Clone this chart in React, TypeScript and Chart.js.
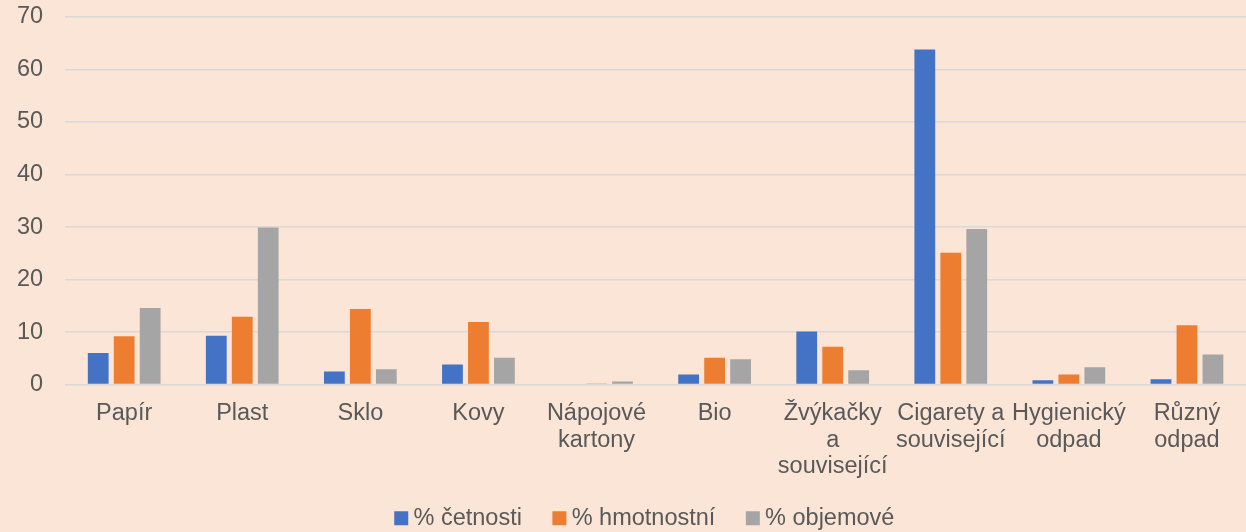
import React, { useEffect, useRef } from "react";
import { Chart, registerables } from "chart.js";

Chart.register(...registerables);

const categories: (string | string[])[] = [
  "Papír",
  "Plast",
  "Sklo",
  "Kovy",
  ["Nápojové", "kartony"],
  "Bio",
  ["Žvýkačky", "a", "související"],
  ["Cigarety a", "související"],
  ["Hygienický", "odpad"],
  ["Různý", "odpad"],
];
const cetnosti = [6.0, 9.3, 2.5, 3.8, 0, 1.9, 10.1, 63.8, 0.8, 1.0];
const hmotnostni = [9.2, 12.9, 14.4, 11.9, 0.2, 5.1, 7.2, 25.1, 1.9, 11.3];
const objemove = [14.6, 29.9, 2.9, 5.1, 0.6, 4.8, 2.7, 29.6, 3.3, 5.7];
const seriesNames = ["% četnosti", "% hmotnostní", "% objemové"];

const bg = "#FBE5D6";
const textColor = "#595959";

const bgPlugin = {
  id: "bgFill",
  beforeDraw(chart: any) {
    const { ctx, width, height } = chart;
    ctx.save();
    ctx.fillStyle = bg;
    ctx.fillRect(0, 0, width, height);
    ctx.restore();
  },
};

// nudge the legend block after layout (keeps wide item spacing, tighter vertical gap)
const legendNudge = {
  id: "legendNudge",
  afterLayout(chart: any) {
    const lg = chart.legend;
    if (!lg) return;
    lg.top -= 18;
    lg.bottom -= 18;
    lg.left -= 8;
    lg.right -= 8;
  },
};

export default function App() {
  const ref = useRef<HTMLCanvasElement | null>(null);
  useEffect(() => {
    document.body.style.margin = "0";
    const font = "'Liberation Sans', Arial, sans-serif";
    const fs = 23.5;
    const chart = new Chart(ref.current!, {
      type: "bar",
      data: {
        labels: categories,
        datasets: [
          { label: seriesNames[0], data: cetnosti, backgroundColor: "#4472C4" },
          { label: seriesNames[1], data: hmotnostni, backgroundColor: "#ED7D31" },
          { label: seriesNames[2], data: objemove, backgroundColor: "#A5A5A5" },
        ],
      },
      options: {
        animation: false,
        responsive: false,
        maintainAspectRatio: false,
        layout: { padding: { top: 0, right: 0, left: -5, bottom: -26 } },
        datasets: {
          bar: { categoryPercentage: 0.66, barPercentage: 0.8 },
        },
        plugins: {
          legend: {
            position: "bottom",
            fullSize: false,
            labels: {
              color: textColor,
              font: { family: font, size: fs },
              usePointStyle: true,
              pointStyle: "rect",
              boxWidth: 1,
              boxHeight: 14,
              padding: 37,
            },
          },
          tooltip: { enabled: false },
        },
        scales: {
          x: {
            grid: { display: false },
            border: { display: false },
            ticks: {
              color: textColor,
              font: { family: font, size: fs, lineHeight: 1.12 },
              maxRotation: 0,
              autoSkip: false,
              padding: 8,
            },
          },
          y: {
            min: 0,
            max: 70,
            ticks: {
              stepSize: 10,
              color: textColor,
              font: { family: font, size: fs },
              padding: 22,
            },
            afterFit: (scale: any) => {
              scale.paddingTop = 17;
              scale.paddingBottom = 12;
            },
            grid: { color: "#D9D9D9", lineWidth: 1.5, drawTicks: false },
            border: { display: false },
          },
        },
      },
      plugins: [bgPlugin, legendNudge],
    });
    return () => chart.destroy();
  }, []);
  return <canvas ref={ref} width={1246} height={532} style={{ display: "block" }} />;
}
